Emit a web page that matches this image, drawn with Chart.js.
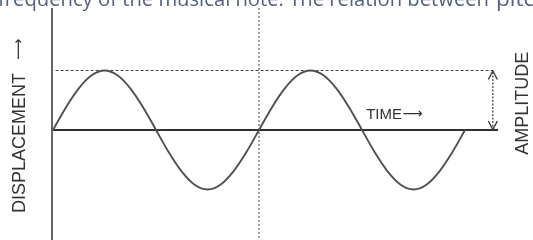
<!DOCTYPE html>
<html>
<head>
<meta charset="utf-8">
<script src="https://cdn.jsdelivr.net/npm/chart.js@4/dist/chart.umd.min.js"></script>
<style>
  html, body { margin: 0; padding: 0; background: #ffffff; }
  #wrap { position: relative; width: 533px; height: 240px; overflow: hidden; }
  #c { position: absolute; left: 0; top: 0; }
  #cap { position: absolute; left: 0; top: 0; pointer-events: none; }
</style>
</head>
<body>
<div id="wrap">
  <canvas id="c" width="533" height="240"></canvas>
  <svg id="cap" width="533" height="240" xmlns="http://www.w3.org/2000/svg">
    <g font-family="'Open Sans', 'Noto Sans', sans-serif" font-size="20" fill="#51617e">
      <text x="-2" y="5.5" textLength="491" lengthAdjust="spacingAndGlyphs">frequency of the musical note. The relation between</text>
      <text x="496" y="5.5" textLength="52" lengthAdjust="spacingAndGlyphs">pitch</text>
    </g>
  </svg>
</div>
<script>
// ---- data (time in quarter-periods, displacement in amplitude units) ----
const time = [0, 0.25, 0.5, 0.75, 1, 1.25, 1.5, 1.75, 2, 2.25, 2.5, 2.75, 3, 3.25, 3.5, 3.75, 4,
              4.25, 4.5, 4.75, 5, 5.25, 5.5, 5.75, 6, 6.25, 6.5, 6.75, 7, 7.25, 7.5, 7.75, 8];
const displacement = [0, 0.38, 0.7, 0.92, 1, 0.92, 0.7, 0.38, 0, -0.38, -0.7, -0.92, -1, -0.92, -0.7, -0.38, 0,
                      0.38, 0.7, 0.92, 1, 0.92, 0.7, 0.38, 0, -0.38, -0.7, -0.92, -1, -0.92, -0.7, -0.38, 0];
const amplitude = 1;
const timeAxisEnd = 8.64;      // end of the solid time axis
const amplitudeLineEnd = 8.54; // end of the dashed amplitude line / arrow position
const midMarker = 4;           // dotted vertical line (one full period)
const axisTop = 2.05, axisBottom = -1.85;
const labelText = { time: 'TIME', displacement: 'DISPLACEMENT', amplitude: 'AMPLITUDE', arrow: '\u27F6' };

const xMin = -1.03, xMax = 9.32, yMin = -1.849, yMax = 2.185;

const wave = time.map((t, i) => ({ x: t, y: displacement[i] }));

const LABEL_FONT = '"Liberation Sans", Arial, sans-serif';
const ARROW_FONT = '"DejaVu Sans", sans-serif';

const overlay = {
  id: 'overlay',
  afterDatasetsDraw(chart) {
    const ctx = chart.ctx, xs = chart.scales.x, ys = chart.scales.y;
    const ax = xs.getPixelForValue(amplitudeLineEnd);
    const yTop = ys.getPixelForValue(amplitude), yBot = ys.getPixelForValue(0);
    ctx.save();
    // arrowheads of the amplitude arrow
    ctx.strokeStyle = '#3a3a3a';
    ctx.lineWidth = 1.4;
    ctx.beginPath();
    ctx.moveTo(ax - 4.5, yTop + 9); ctx.lineTo(ax, yTop + 0.5); ctx.lineTo(ax + 4.5, yTop + 9);
    ctx.moveTo(ax - 4.5, yBot - 9); ctx.lineTo(ax, yBot - 0.5); ctx.lineTo(ax + 4.5, yBot - 9);
    ctx.stroke();

    ctx.fillStyle = '#333333';
    // TIME ->
    const tx = xs.getPixelForValue(6.08), ty = ys.getPixelForValue(0.19);
    ctx.font = '15px ' + LABEL_FONT;
    ctx.textBaseline = 'alphabetic';
    ctx.textAlign = 'left';
    ctx.fillText(labelText.time, tx, ty);
    const tw = ctx.measureText(labelText.time).width;
    ctx.font = '14px ' + ARROW_FONT;
    ctx.fillText(labelText.arrow, tx + tw + 0.5, ty - 1);

    // AMPLITUDE (rotated)
    ctx.font = '18px ' + LABEL_FONT;
    ctx.textBaseline = 'middle';
    ctx.save();
    ctx.translate(523, ys.getPixelForValue(0.45));
    ctx.rotate(-Math.PI / 2);
    ctx.textAlign = 'center';
    ctx.fillText(labelText.amplitude, 0, 0);
    ctx.restore();

    // DISPLACEMENT -> (rotated)
    ctx.save();
    ctx.translate(20, 213);
    ctx.rotate(-Math.PI / 2);
    ctx.textAlign = 'left';
    ctx.font = '18px ' + LABEL_FONT;
    ctx.fillText(labelText.displacement, 0, 0);
    const dw = ctx.measureText(labelText.displacement).width;
    ctx.font = '15px ' + ARROW_FONT;
    ctx.fillText(labelText.arrow, dw + 13, -1);
    ctx.restore();
    ctx.restore();
  }
};

new Chart(document.getElementById('c'), {
  type: 'scatter',
  data: {
    datasets: [
      { label: 'wave', data: wave, showLine: true, borderColor: '#505050', borderWidth: 1.9,
        pointRadius: 0, cubicInterpolationMode: 'monotone' },
      { label: 'time axis', data: [{ x: 0, y: 0 }, { x: timeAxisEnd, y: 0 }], showLine: true,
        borderColor: '#303030', borderWidth: 1.9, pointRadius: 0 },
      { label: 'amplitude line', data: [{ x: 0.05, y: amplitude }, { x: amplitudeLineEnd, y: amplitude }], showLine: true,
        borderColor: '#444444', borderWidth: 1.1, borderDash: [3, 2], pointRadius: 0 },
      { label: 'displacement axis', data: [{ x: -0.02, y: axisTop }, { x: -0.02, y: axisBottom }], showLine: true,
        borderColor: '#404040', borderWidth: 1.6, pointRadius: 0 },
      { label: 'period marker', data: [{ x: midMarker, y: axisTop }, { x: midMarker, y: axisBottom }], showLine: true,
        borderColor: '#555555', borderWidth: 1.1, borderDash: [2, 2], pointRadius: 0 },
      { label: 'amplitude arrow', data: [{ x: amplitudeLineEnd, y: 0 }, { x: amplitudeLineEnd, y: amplitude }], showLine: true,
        borderColor: '#3a3a3a', borderWidth: 1.2, borderDash: [2, 1.5], pointRadius: 0 }
    ]
  },
  options: {
    responsive: false,
    animation: false,
    devicePixelRatio: 1,
    layout: { padding: 0 },
    plugins: { legend: { display: false }, tooltip: { enabled: false } },
    scales: {
      x: { type: 'linear', min: xMin, max: xMax, display: false },
      y: { type: 'linear', min: yMin, max: yMax, display: false }
    }
  },
  plugins: [overlay]
});
</script>
</body>
</html>
